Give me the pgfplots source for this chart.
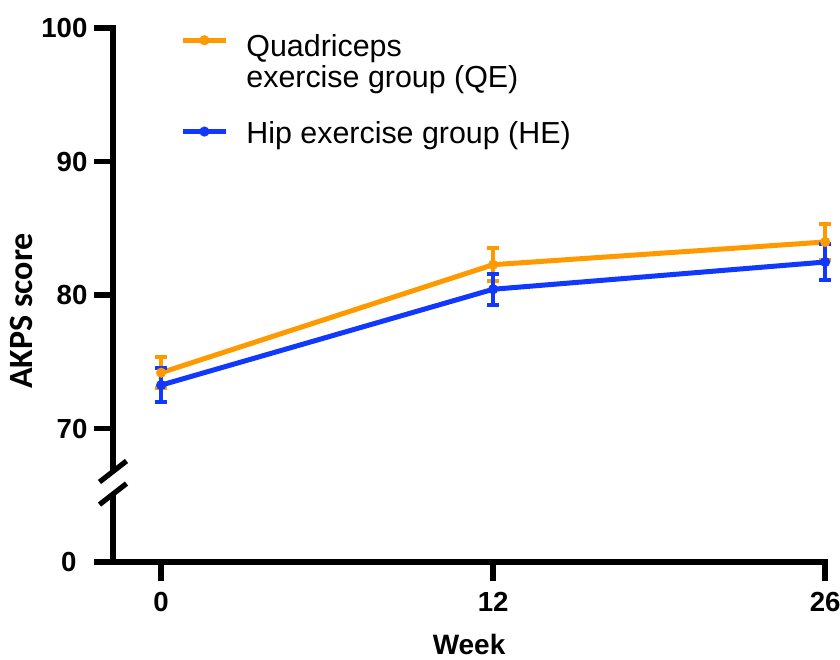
\documentclass[border=0pt]{standalone}
\usepackage{pgfplots}
\pgfplotsset{compat=1.18}
\usepackage{pgfplotstable}
\usepackage{fontspec}
\setmainfont{Liberation Sans}
\newfontfamily\carlito{Carlito}

\definecolor{qeorange}{RGB}{255,153,0}
\definecolor{heblue}{RGB}{16,56,255}

% AKPS score by week (0, 12, 26 plotted at 0, 1, 2); e = error bar half-length
\pgfplotstableread{
x y e
0 74.18 1.16
1 82.27 1.22
2 83.97 1.33
}\qedata
\pgfplotstableread{
x y e
0 73.25 1.27
1 80.43 1.17
2 82.47 1.37
}\hedata

\pgfplotsset{
  qe legend/.style={legend image code/.code={%
    \draw[##1, mark repeat=2, mark phase=2] plot coordinates {(0pt,8.3pt) (10.75pt,8.3pt) (21.5pt,8.3pt)};}},
  he legend/.style={legend image code/.code={%
    \draw[##1, mark repeat=2, mark phase=2] plot coordinates {(0pt,5.8pt) (10.75pt,5.8pt) (21.5pt,5.8pt)};}},
  group line/.style={line width=2.5pt, mark=*, mark size=1.2pt,
    error bars/.cd, y dir=both, y explicit,
    error bar style={line width=2.2pt},
    error mark options={rotate=90, mark size=3pt, line width=2pt}},
}

\begin{document}
\begin{tikzpicture}
\begin{axis}[
  scale only axis,
  width=356.07pt, height=267pt,
  xmin=-0.145, xmax=2,
  ymin=60, ymax=100,
  clip=false,
  axis lines*=left,
  axis line style={draw=none},
  xtick={0,1,2}, xticklabels={0,12,26},
  ytick={70,80,90,100}, yticklabels={70,80,90,100},
  % the lowest tick stands for 0, below the axis break
  extra y ticks={60}, extra y tick labels={0},
  extra y tick style={yticklabel style={xshift=-5.5pt}},
  tick align=outside,
  major tick length=9.6pt,
  tick style={line width=2.75pt, black},
  ticklabel style={font=\fontsize{13.8}{16}\selectfont\bfseries},
  yticklabel style={anchor=east, inner sep=0pt, xshift=-3pt},
  xticklabel style={anchor=north, inner sep=0pt, yshift=-5.5pt},
  xlabel={Week},
  xlabel style={font=\fontsize{14}{16}\selectfont\bfseries,
    at={(axis description cs:0.5,0)}, anchor=base, yshift=-46.3pt},
  ylabel={AKPS score},
  ylabel style={font=\carlito\fontsize{17}{20}\selectfont\bfseries,
    at={(axis description cs:-0.129,0.47)}, anchor=center},
  legend style={at={(axis description cs:0.0941,0.988)}, anchor=north west,
    draw=none, fill=none, inner sep=0pt, row sep=13.5pt, column sep=9pt,
    font=\fontsize{15.2}{15.5}\selectfont,
    nodes={inner sep=0pt, text depth=},
    cells={anchor=base west}},
]
\addplot[color=qeorange, qe legend, group line] table[x=x, y=y, y error=e] {\qedata};
\addlegendentry{\parbox[t]{200pt}{Quadriceps\\exercise group (QE)}}
\addplot[color=heblue, he legend, group line] table[x=x, y=y, y error=e] {\hedata};
\addlegendentry{Hip exercise group (HE)}

% axis lines with a break in the y axis between 0 and 70
\draw[line width=2.75pt] (axis cs:-0.184,60) -- ([xshift=1.375pt]axis cs:2,60);
\draw[line width=2.75pt] ([yshift=-1.375pt]axis cs:-0.145,60) -- (axis cs:-0.145,65.09);
\draw[line width=2.75pt] (axis cs:-0.145,66.78) -- ([yshift=1.375pt]axis cs:-0.145,100);
\draw[line width=2.6pt] ([shift={(-6.75pt,-5.25pt)}]axis cs:-0.145,66.78) -- ([shift={(6.75pt,5.25pt)}]axis cs:-0.145,66.78);
\draw[line width=2.6pt] ([shift={(-6.75pt,-5.25pt)}]axis cs:-0.145,65.09) -- ([shift={(6.75pt,5.25pt)}]axis cs:-0.145,65.09);
\end{axis}
\pgfresetboundingbox
\path (-56.5pt,-48.5pt) rectangle (363.5pt,281pt);
\end{tikzpicture}
\end{document}
